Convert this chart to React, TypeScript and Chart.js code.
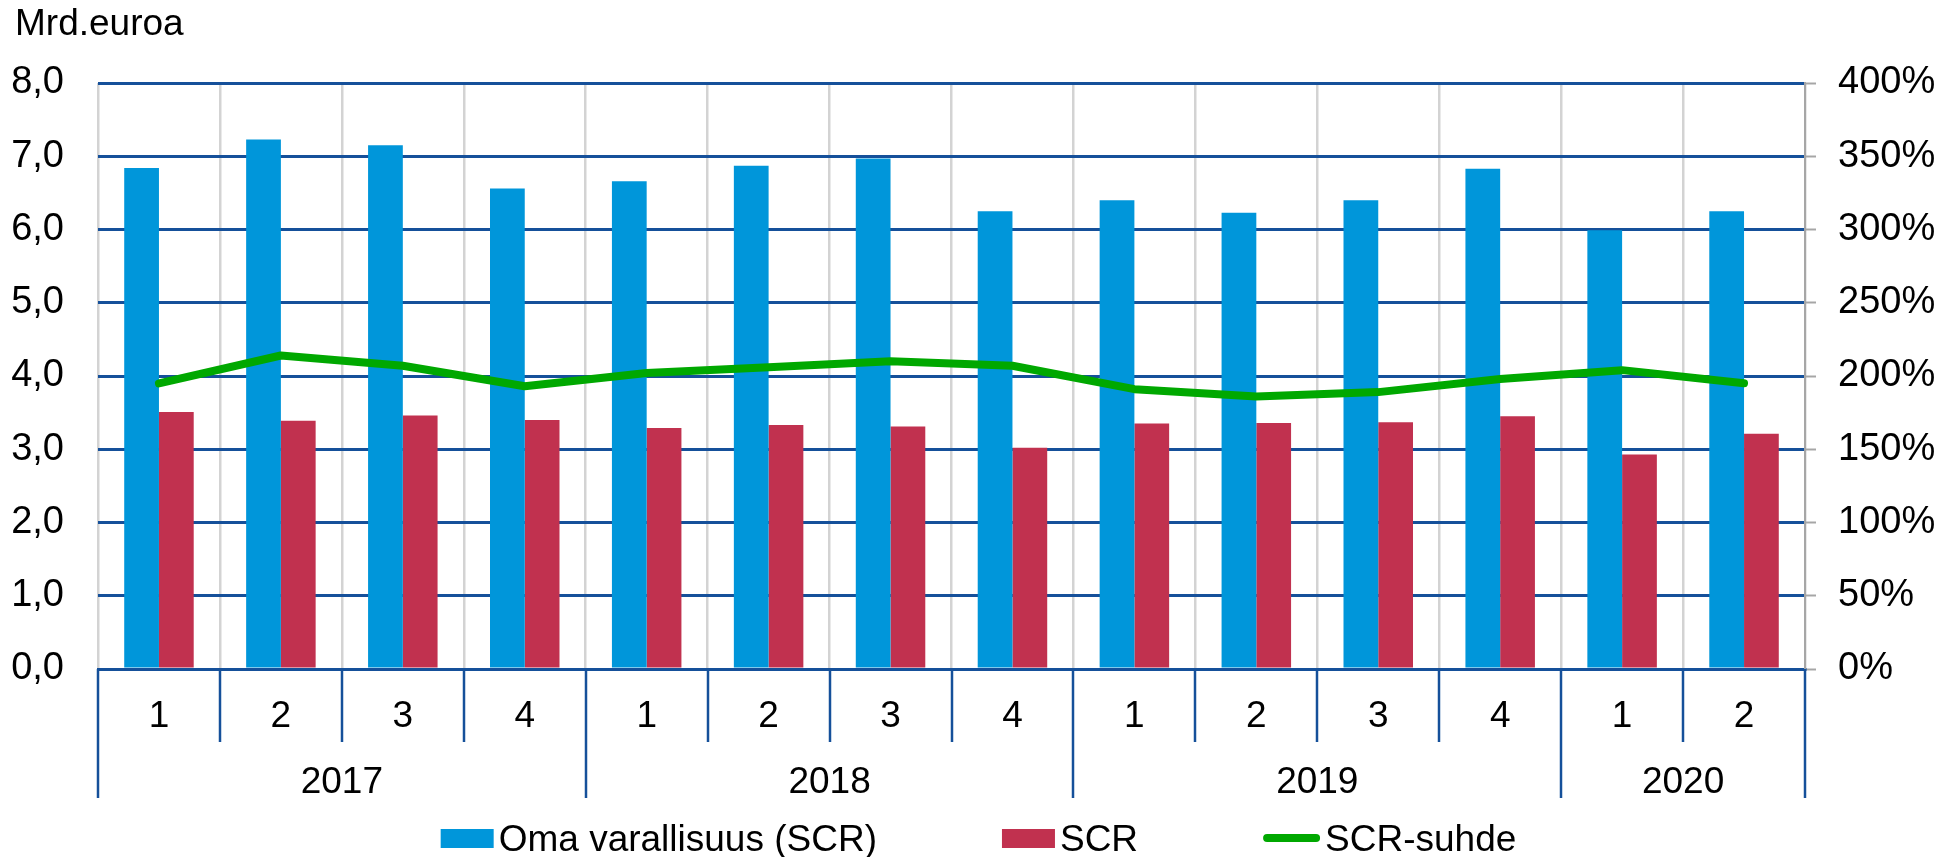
import { useEffect, useRef } from 'react';
import { Chart, registerables } from 'chart.js';

Chart.register(...registerables);

const quarters = ['1', '2', '3', '4', '1', '2', '3', '4', '1', '2', '3', '4', '1', '2'];
const years = ['2017', '2018', '2019', '2020'];
const yearSpans = [4, 4, 4, 2];
const ownFunds = [6.84, 7.23, 7.15, 6.56, 6.66, 6.87, 6.97, 6.25, 6.40, 6.23, 6.40, 6.83, 5.99, 6.25];
const scr = [3.51, 3.39, 3.46, 3.40, 3.29, 3.33, 3.31, 3.02, 3.35, 3.36, 3.37, 3.45, 2.93, 3.21];
const ratio = [195, 214, 207, 193, 202, 206, 210, 207, 191, 186, 189, 198, 204, 195];
const seriesNames = ['Oma varallisuus (SCR)', 'SCR', 'SCR-suhde'];
const unitLabel = 'Mrd.euroa';

const BLUE = '#0096DA';
const RED = '#C1314F';
const GREEN = '#00A800';
const AXIS_BLUE = '#15509A';
const GRID_GRAY = '#D3D3D3';
const AXIS_GRAY = '#A6A6A6';
const FONT = '"Liberation Sans", Arial, sans-serif';
const FS = 37;
const TICK_FS = 38;

const decorPlugin = {
  id: 'decor',
  afterDraw(chart: any) {
    const { ctx, chartArea } = chart;
    const x = chart.scales.x;
    const n = quarters.length;
    const w = (chartArea.right - chartArea.left) / n;
    const y0 = chartArea.bottom;
    ctx.save();
    // bottom multi-level axis
    const yearBounds = new Set<number>([0]);
    let acc = 0;
    yearSpans.forEach((s) => {
      acc += s;
      yearBounds.add(acc);
    });
    ctx.strokeStyle = AXIS_BLUE;
    ctx.lineWidth = 2.5;
    for (let i = 0; i <= n; i++) {
      const bx = Math.round(x.getPixelForValue(0) - w / 2 + i * w);
      ctx.beginPath();
      ctx.moveTo(bx, y0);
      ctx.lineTo(bx, yearBounds.has(i) ? y0 + 129 : y0 + 73);
      ctx.stroke();
    }
    ctx.fillStyle = '#000';
    ctx.font = `${FS}px ${FONT}`;
    ctx.textAlign = 'center';
    ctx.textBaseline = 'alphabetic';
    quarters.forEach((q, i) => ctx.fillText(q, x.getPixelForValue(i), y0 + 58));
    acc = 0;
    years.forEach((yr, j) => {
      const c = (x.getPixelForValue(acc) + x.getPixelForValue(acc + yearSpans[j] - 1)) / 2;
      ctx.fillText(yr, c, y0 + 124);
      acc += yearSpans[j];
    });

    // unit label
    ctx.textAlign = 'left';
    ctx.fillText(unitLabel, 15, 35);

    // legend
    const boxW = 53;
    const boxH = 19;
    const lineW = 57;
    const gapText = 5;
    const gapItem = 125;
    const widths = seriesNames.map((s, i) => (i === 2 ? lineW : boxW) + gapText + ctx.measureText(s).width);
    const total = widths.reduce((a, b) => a + b, 0) + gapItem * (widths.length - 1);
    let lx = chart.width / 2 - total / 2 + 4;
    const baseY = 851;
    seriesNames.forEach((s, i) => {
      if (i < 2) {
        ctx.fillStyle = i === 0 ? BLUE : RED;
        ctx.fillRect(lx, 829, boxW, boxH);
        ctx.fillStyle = '#000';
        ctx.fillText(s, lx + boxW + gapText, baseY);
      } else {
        ctx.strokeStyle = GREEN;
        ctx.lineWidth = 8;
        ctx.lineCap = 'round';
        ctx.beginPath();
        ctx.moveTo(lx + 4, 838);
        ctx.lineTo(lx + lineW - 4, 838);
        ctx.stroke();
        ctx.fillStyle = '#000';
        ctx.fillText(s, lx + lineW + gapText, baseY);
      }
      lx += widths[i] + gapItem;
    });
    ctx.restore();
  },
};

export default function App() {
  const ref = useRef<HTMLCanvasElement | null>(null);
  useEffect(() => {
    document.body.style.margin = '0';
    if (!ref.current) return;
    const chart = new Chart(ref.current, {
      type: 'bar',
      data: {
        labels: quarters,
        datasets: [
          {
            type: 'bar',
            label: seriesNames[0],
            data: ownFunds,
            backgroundColor: BLUE,
            yAxisID: 'y',
            order: 1,
            categoryPercentage: 0.57,
            barPercentage: 1.0,
          },
          {
            type: 'bar',
            label: seriesNames[1],
            data: scr,
            backgroundColor: RED,
            yAxisID: 'y',
            order: 2,
            categoryPercentage: 0.57,
            barPercentage: 1.0,
          },
          {
            type: 'line',
            label: seriesNames[2],
            data: ratio,
            borderColor: GREEN,
            backgroundColor: GREEN,
            borderWidth: 8,
            borderCapStyle: 'round',
            borderJoinStyle: 'round',
            pointRadius: 0,
            tension: 0,
            yAxisID: 'y1',
            order: 0,
          },
        ],
      } as any,
      options: {
        animation: false,
        responsive: false,
        maintainAspectRatio: false,
        layout: { padding: { top: 83, left: 0, right: 0, bottom: 0 } },
        plugins: {
          legend: { display: false },
          tooltip: { enabled: false },
          title: { display: false },
        },
        scales: {
          x: {
            offset: true,
            grid: {
              offset: true,
              color: GRID_GRAY,
              lineWidth: 2.5,
              drawTicks: false,
            },
            border: { display: true, color: AXIS_BLUE, width: 3 },
            ticks: { display: false },
            afterFit: (s: any) => {
              s.height = 188;
            },
          },
          y: {
            position: 'left',
            min: 0,
            max: 8,
            ticks: {
              stepSize: 1,
              padding: 34,
              color: '#000',
              font: { family: FONT, size: TICK_FS },
              callback: (v: any) => Number(v).toFixed(1).replace('.', ','),
            },
            grid: { color: AXIS_BLUE, lineWidth: 3, drawTicks: false },
            border: { display: false },
            afterFit: (s: any) => {
              s.width = 98;
            },
          },
          y1: {
            position: 'right',
            min: 0,
            max: 400,
            ticks: {
              stepSize: 50,
              padding: 22,
              color: '#000',
              font: { family: FONT, size: TICK_FS },
              callback: (v: any) => `${v}%`,
            },
            grid: {
              drawOnChartArea: false,
              drawTicks: true,
              tickLength: 11,
              tickColor: AXIS_GRAY,
              tickWidth: 2,
            },
            border: { display: true, color: AXIS_GRAY, width: 2 },
            afterFit: (s: any) => {
              s.width = 144;
            },
          },
        },
      } as any,
      plugins: [decorPlugin],
    });
    return () => chart.destroy();
  }, []);
  return (
    <div style={{ position: 'absolute', left: 0, top: 0, width: 1949, height: 857 }}>
      <canvas ref={ref} width={1949} height={857} />
    </div>
  );
}
